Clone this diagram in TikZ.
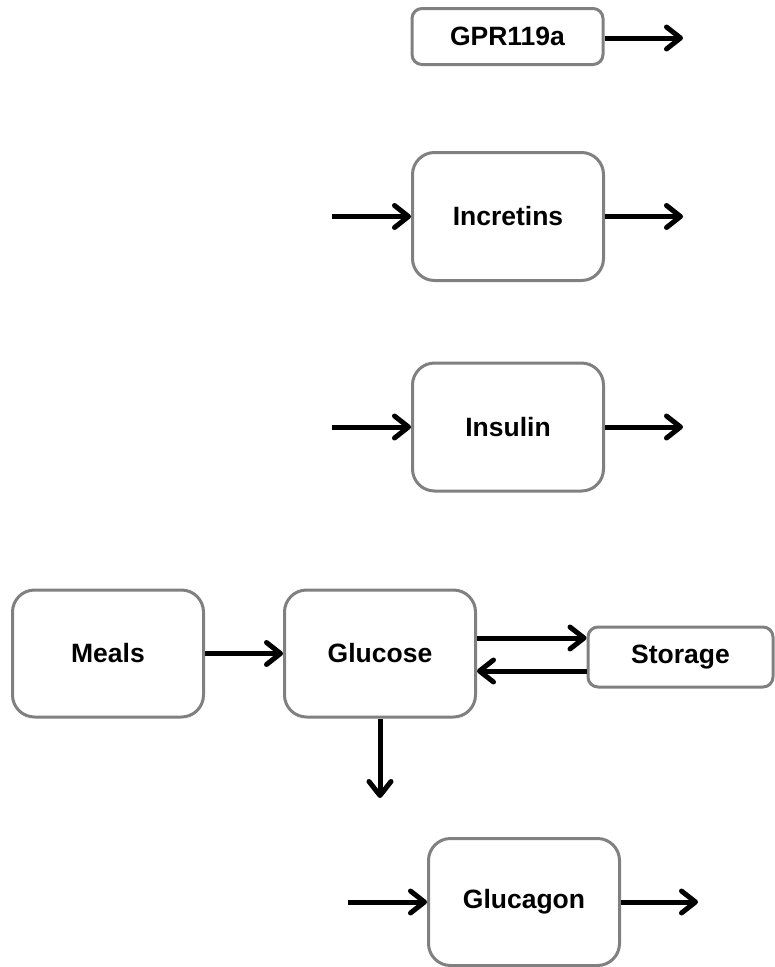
\documentclass[tikz,border=0pt]{standalone}
\usepackage{fontspec}
\setmainfont{Liberation Sans}
\usetikzlibrary{arrows.meta}
\definecolor{boxgray}{HTML}{808080}
\begin{document}
\begin{tikzpicture}[x=1pt,y=-1pt,
  box/.style={draw=boxgray, line width=3pt, rounded corners=22pt, fill=white,
    font=\fontsize{26.5}{30}\selectfont\bfseries, inner sep=0pt,
    minimum width=191pt, minimum height=127pt},
  smallbox/.style={box, rounded corners=10pt, minimum height=56pt},
  conn/.style={line width=5pt, line cap=butt,
    -{Straight Barb[length=14pt,width=22pt,line cap=round,line join=round]}}]
\useasboundingbox (0,0) rectangle (775,967);

\node[smallbox] (gpr) at (507.5,36.5) {GPR119a};
\node[box, minimum height=128pt] (incr) at (508,216.5) {Incretins};
\node[box, minimum height=128pt] (insu) at (508,427) {Insulin};
\node[box] (meals) at (108,653.5) {Meals};
\node[box] (gluc) at (380,653.5) {Glucose};
\node[smallbox, minimum width=185pt, minimum height=60pt] (stor) at (680.5,657) {Storage};
\node[box] (glucag) at (524,902) {Glucagon};

\coordinate (gprout) at (683,38);
\coordinate (incrin) at (332,216.5);
\coordinate (incrout) at (683,216.5);
\coordinate (insuin) at (332,427);
\coordinate (insuout) at (683,427);
\coordinate (glucagin) at (348,902);
\coordinate (glucagout) at (698,902);
\coordinate (down) at (380,798);
\coordinate (upper) at (0,638);
\coordinate (lower) at (0,671);

\draw[conn] (gpr.east |- gprout) -- (gprout);
\draw[conn] (incrin) -- (incr.west);
\draw[conn] (incr.east) -- (incrout);
\draw[conn] (insuin) -- (insu.west);
\draw[conn] (insu.east) -- (insuout);
\draw[conn] (meals.east) -- (gluc.west);
\draw[conn] (gluc.east |- upper) -- (stor.west |- upper);
\draw[conn] (stor.west |- lower) -- (gluc.east |- lower);
\draw[conn] (gluc.south) -- (down);
\draw[conn] (glucagin) -- (glucag.west);
\draw[conn] (glucag.east) -- (glucagout);
\end{tikzpicture}
\end{document}
